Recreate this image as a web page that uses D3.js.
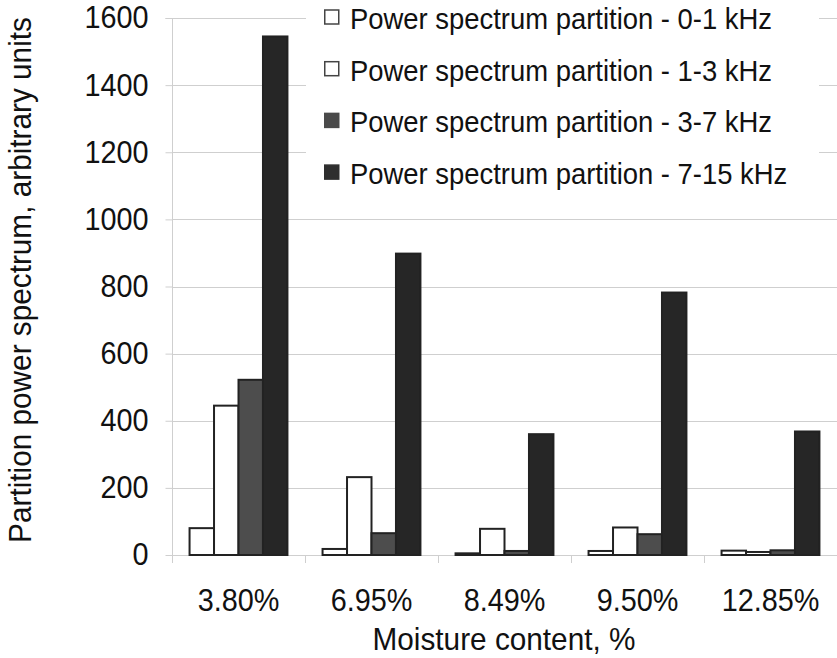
<!DOCTYPE html>
<html>
<head>
<meta charset="utf-8">
<script src="https://cdn.jsdelivr.net/npm/d3@7"></script>
<style>
  html, body { margin: 0; padding: 0; background: #fff; }
  svg { display: block; }
  text { font-family: "Liberation Sans", Arial, Helvetica, sans-serif; fill: #111; }
</style>
</head>
<body>
<svg id="chart" width="837" height="658"></svg>
<script>
// ---- Data ----
const categories = ["3.80%", "6.95%", "8.49%", "9.50%", "12.85%"];
const seriesNames = [
  "Power spectrum partition - 0-1 kHz",
  "Power spectrum partition - 1-3 kHz",
  "Power spectrum partition - 3-7 kHz",
  "Power spectrum partition - 7-15 kHz"
];
const band0to1 = [80, 18, 5, 12, 13];
const band1to3 = [445, 232, 78, 82, 9];
const band3to7 = [522, 65, 12, 62, 14];
const band7to15 = [1545, 898, 360, 782, 368];
const yTicks = [0, 200, 400, 600, 800, 1000, 1200, 1400, 1600];
const xTitle = "Moisture content, %";
const yTitle = "Partition power spectrum, arbitrary units";

const seriesValues = [band0to1, band1to3, band3to7, band7to15];
const fills = ["#ffffff", "#ffffff", "#4d4d4d", "#262626"];
const legendFills = ["#ffffff", "#ffffff", "#4a4a4a", "#2e2e2e"];

// ---- Layout ----
const svg = d3.select("#chart");
const mLeft = 172, mRight = 837, mTop = 18, mBottom = 555;
const gridColor = "#cfcfcf";
const SX = 0.93;      // horizontal glyph compression seen in the reference
const FS = 31;        // font size

const x0 = d3.scaleBand().domain(categories).range([mLeft, mRight]).padding(0);
const x1 = d3.scaleBand().domain(d3.range(seriesNames.length))
  .range([x0.step() * 0.132, x0.step() * 0.868]).padding(0);
const y = d3.scaleLinear().domain([0, 1600]).range([mBottom, mTop]);

function label(sel, x, yy, txt, anchor, rot, size) {
  return sel.append("text")
    .attr("transform", `translate(${x},${yy})` + (rot ? ` rotate(${rot})` : "") + ` scale(${SX},1)`)
    .attr("text-anchor", anchor || "start")
    .attr("font-size", size || FS)
    .text(txt);
}

// gridlines
svg.append("g").selectAll("line").data(yTicks).join("line")
  .attr("x1", mLeft).attr("x2", mRight)
  .attr("y1", d => Math.round(y(d)) + 0.5).attr("y2", d => Math.round(y(d)) + 0.5)
  .attr("stroke", gridColor).attr("stroke-width", 1);

// y axis
const yAxis = d3.axisLeft(y).tickValues(yTicks).tickSize(7).tickFormat(d3.format("d"));
const gy = svg.append("g").attr("transform", `translate(${mLeft + 0.5},0)`).call(yAxis);
gy.select(".domain").attr("stroke", gridColor).attr("d", `M-7,${Math.round(y(1600))+0.5}H0V${mBottom + 8}`);
gy.selectAll(".tick line").attr("stroke", gridColor);
gy.selectAll(".tick text")
  .attr("x", -24 / SX)
  .attr("transform", `scale(${SX},1)`)
  .attr("font-size", FS).attr("fill", "#111")
  .style("font-family", "'Liberation Sans', Arial, sans-serif");

// x axis ticks at band boundaries
const boundaries = categories.map(c => x0(c)).concat([mRight]);
svg.append("g").selectAll("line").data(boundaries).join("line")
  .attr("x1", d => Math.round(d) + 0.5).attr("x2", d => Math.round(d) + 0.5)
  .attr("y1", mBottom).attr("y2", mBottom + 8)
  .attr("stroke", gridColor);

// x labels
const xl = svg.append("g");
categories.forEach(c => label(xl, x0(c) + x0.bandwidth() / 2, 611, c, "middle"));

// legend background
svg.append("rect").attr("x", 306).attr("y", 0).attr("width", 513).attr("height", 200)
  .attr("fill", "#fff");

// bars
const groups = svg.append("g").selectAll("g").data(categories).join("g")
  .attr("transform", d => `translate(${x0(d)},0)`);
groups.selectAll("rect").data((d, i) => seriesValues.map((s, k) => ({k, v: s[i]})))
  .join("rect")
  .attr("x", d => x1(d.k))
  .attr("width", x1.bandwidth())
  .attr("y", d => y(d.v))
  .attr("height", d => mBottom - y(d.v))
  .attr("fill", d => fills[d.k])
  .attr("stroke", "#222")
  .attr("stroke-width", 2);

// legend
const legend = svg.append("g").selectAll("g").data(seriesNames).join("g")
  .attr("transform", (d, i) => `translate(324,${29 + i * 51.7})`);
legend.append("rect")
  .attr("x", 0.75).attr("y", -19).attr("width", 14).attr("height", 14)
  .attr("fill", (d, i) => legendFills[i])
  .attr("stroke", (d, i) => i < 2 ? "#444" : legendFills[i])
  .attr("stroke-width", 1.5);
legend.each(function(d) { label(d3.select(this), 26, 0, d, "start", 0, 29.5); });

// axis titles
label(svg, 504, 650, xTitle, "middle", 0, 32);
label(svg, 31, 280, yTitle, "middle", -90, 32);
</script>
</body>
</html>
